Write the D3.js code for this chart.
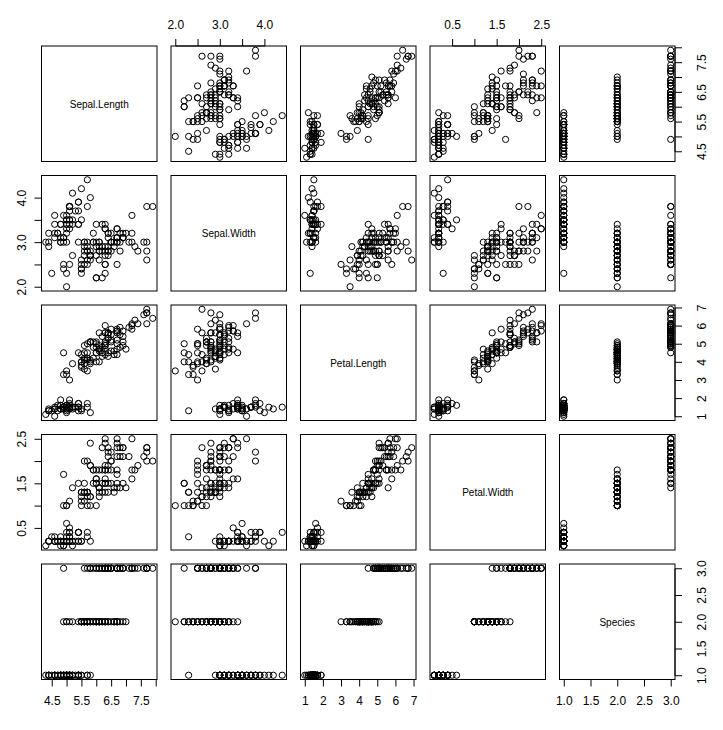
<!DOCTYPE html>
<html><head><meta charset="utf-8">
<script src="https://cdn.jsdelivr.net/npm/d3@7"></script>
<style>body{margin:0;background:#fff}text{font-family:"Liberation Sans",Arial,sans-serif;fill:#000}</style>
</head><body><svg id="c" width="723" height="730"></svg>
<script>
const varNames = ["Sepal.Length","Sepal.Width","Petal.Length","Petal.Width","Species"];
const sepalLength = [5.1,4.9,4.7,4.6,5.0,5.4,4.6,5.0,4.4,4.9,5.4,4.8,4.8,4.3,5.8,5.7,5.4,5.1,5.7,5.1,5.4,5.1,4.6,5.1,4.8,5.0,5.0,5.2,5.2,4.7,4.8,5.4,5.2,5.5,4.9,5.0,5.5,4.9,4.4,5.1,5.0,4.5,4.4,5.0,5.1,4.8,5.1,4.6,5.3,5.0,
7.0,6.4,6.9,5.5,6.5,5.7,6.3,4.9,6.6,5.2,5.0,5.9,6.0,6.1,5.6,6.7,5.6,5.8,6.2,5.6,5.9,6.1,6.3,6.1,6.4,6.6,6.8,6.7,6.0,5.7,5.5,5.5,5.8,6.0,5.4,6.0,6.7,6.3,5.6,5.5,5.5,6.1,5.8,5.0,5.6,5.7,5.7,6.2,5.1,5.7,
6.3,5.8,7.1,6.3,6.5,7.6,4.9,7.3,6.7,7.2,6.5,6.4,6.8,5.7,5.8,6.4,6.5,7.7,7.7,6.0,6.9,5.6,7.7,6.3,6.7,7.2,6.2,6.1,6.4,7.2,7.4,7.9,6.4,6.3,6.1,7.7,6.3,6.4,6.0,6.9,6.7,6.9,5.8,6.8,6.7,6.7,6.3,6.5,6.2,5.9];
const sepalWidth = [3.5,3.0,3.2,3.1,3.6,3.9,3.4,3.4,2.9,3.1,3.7,3.4,3.0,3.0,4.0,4.4,3.9,3.5,3.8,3.8,3.4,3.7,3.6,3.3,3.4,3.0,3.4,3.5,3.4,3.2,3.1,3.4,4.1,4.2,3.1,3.2,3.5,3.6,3.0,3.4,3.5,2.3,3.2,3.5,3.8,3.0,3.8,3.2,3.7,3.3,
3.2,3.2,3.1,2.3,2.8,2.8,3.3,2.4,2.9,2.7,2.0,3.0,2.2,2.9,2.9,3.1,3.0,2.7,2.2,2.5,3.2,2.8,2.5,2.8,2.9,3.0,2.8,3.0,2.9,2.6,2.4,2.4,2.7,2.7,3.0,3.4,3.1,2.3,3.0,2.5,2.6,3.0,2.6,2.3,2.7,3.0,2.9,2.9,2.5,2.8,
3.3,2.7,3.0,2.9,3.0,3.0,2.5,2.9,2.5,3.6,3.2,2.7,3.0,2.5,2.8,3.2,3.0,3.8,2.6,2.2,3.2,2.8,2.8,2.7,3.3,3.2,2.8,3.0,2.8,3.0,2.8,3.8,2.8,2.8,2.6,3.0,3.4,3.1,3.0,3.1,3.1,3.1,2.7,3.2,3.3,3.0,2.5,3.0,3.4,3.0];
const petalLength = [1.4,1.4,1.3,1.5,1.4,1.7,1.4,1.5,1.4,1.5,1.5,1.6,1.4,1.1,1.2,1.5,1.3,1.4,1.7,1.5,1.7,1.5,1.0,1.7,1.9,1.6,1.6,1.5,1.4,1.6,1.6,1.5,1.5,1.4,1.5,1.2,1.3,1.4,1.3,1.5,1.3,1.3,1.3,1.6,1.9,1.4,1.6,1.4,1.5,1.4,
4.7,4.5,4.9,4.0,4.6,4.5,4.7,3.3,4.6,3.9,3.5,4.2,4.0,4.7,3.6,4.4,4.5,4.1,4.5,3.9,4.8,4.0,4.9,4.7,4.3,4.4,4.8,5.0,4.5,3.5,3.8,3.7,3.9,5.1,4.5,4.5,4.7,4.4,4.1,4.0,4.4,4.6,4.0,3.3,4.2,4.2,4.2,4.3,3.0,4.1,
6.0,5.1,5.9,5.6,5.8,6.6,4.5,6.3,5.8,6.1,5.1,5.3,5.5,5.0,5.1,5.3,5.5,6.7,6.9,5.0,5.7,4.9,6.7,4.9,5.7,6.0,4.8,4.9,5.6,5.8,6.1,6.4,5.6,5.1,5.6,6.1,5.6,5.5,4.8,5.4,5.6,5.1,5.1,5.9,5.7,5.2,5.0,5.2,5.4,5.1];
const petalWidth = [0.2,0.2,0.2,0.2,0.2,0.4,0.3,0.2,0.2,0.1,0.2,0.2,0.1,0.1,0.2,0.4,0.4,0.3,0.3,0.3,0.2,0.4,0.2,0.5,0.2,0.2,0.4,0.2,0.2,0.2,0.2,0.4,0.1,0.2,0.2,0.2,0.2,0.1,0.2,0.2,0.3,0.3,0.2,0.6,0.4,0.3,0.2,0.2,0.2,0.2,
1.4,1.5,1.5,1.3,1.5,1.3,1.6,1.0,1.3,1.4,1.0,1.5,1.0,1.4,1.3,1.4,1.5,1.0,1.5,1.1,1.8,1.3,1.5,1.2,1.3,1.4,1.4,1.7,1.5,1.0,1.1,1.0,1.2,1.6,1.5,1.6,1.5,1.3,1.3,1.3,1.2,1.4,1.2,1.0,1.3,1.2,1.3,1.3,1.1,1.3,
2.5,1.9,2.1,1.8,2.2,2.1,1.7,1.8,1.8,2.5,2.0,1.9,2.1,2.0,2.4,2.3,1.8,2.2,2.3,1.5,2.3,2.0,2.0,1.8,2.1,1.8,1.8,1.8,2.1,1.6,1.9,2.0,2.2,1.5,1.4,2.3,2.4,1.8,1.8,2.1,2.4,2.3,1.9,2.3,2.5,2.3,1.9,2.0,2.3,1.8];
const speciesCodes = [1,2,3];
const species = speciesCodes.flatMap(c => Array(50).fill(c));
const tickVals = [
  [4.5,5.0,5.5,6.0,6.5,7.0,7.5,8.0],
  [2.0,2.5,3.0,3.5,4.0],
  [1,2,3,4,5,6,7],
  [0.5,1.0,1.5,2.0,2.5],
  [1.0,1.5,2.0,2.5,3.0]
];
const tickLabels = [
  ["4.5","","5.5","","6.5","","7.5",""],
  ["2.0","","3.0","","4.0"],
  ["1","2","3","4","5","6","7"],
  ["0.5","","1.5","","2.5"],
  ["1.0","1.5","2.0","2.5","3.0"]
];
const cols = [sepalLength, sepalWidth, petalLength, petalWidth, species];

const svg = d3.select("#c");
const P = 115.5, step = 129.5, X0 = 41.5, Y0 = 46, n = 5;
const doms = cols.map(a => { const e = d3.extent(a), r = (e[1]-e[0])*0.04; return [e[0]-r, e[1]+r]; });

for (let i = 0; i < n; i++) {
  for (let j = 0; j < n; j++) {
    const x0 = X0 + j*step, y0 = Y0 + i*step;
    const g = svg.append("g").attr("transform", `translate(${x0},${y0})`);
    const xs = d3.scaleLinear().domain(doms[j]).range([0, P]);
    const ys = d3.scaleLinear().domain(doms[i]).range([P, 0]);
    if (i === j) {
      g.append("text").attr("x", P/2).attr("y", P/2 + 4).attr("text-anchor","middle")
        .attr("font-size", 10).text(varNames[i]);
    } else {
      g.selectAll("circle").data(d3.range(150)).join("circle")
        .attr("cx", k => xs(cols[j][k])).attr("cy", k => ys(cols[i][k])).attr("r", 3.1)
        .attr("fill","none").attr("stroke","#000").attr("stroke-width",1);
    }
    g.append("rect").attr("width",P).attr("height",P).attr("fill","none").attr("stroke","#000").attr("stroke-width",1);
    const fmt = labs => (d, k) => labs[k];
    if (i === 0 && j % 2 === 1) {
      const a = g.append("g").call(d3.axisTop(xs).tickValues(tickVals[j]).tickFormat(fmt(tickLabels[j])).tickSize(7).tickPadding(10));
      styleAxis(a);
    }
    if (i === n-1 && j % 2 === 0) {
      const a = g.append("g").attr("transform",`translate(0,${P})`).call(d3.axisBottom(xs).tickValues(tickVals[j]).tickFormat(fmt(tickLabels[j])).tickSize(7).tickPadding(10));
      styleAxis(a);
    }
    if (j === 0 && i % 2 === 1) {
      const a = g.append("g").call(d3.axisLeft(ys).tickValues(tickVals[i]).tickFormat(fmt(tickLabels[i])).tickSize(7));
      styleAxis(a);
      a.selectAll(".tick text").attr("transform","rotate(-90)").attr("x",0).attr("y",-16).attr("dy","0").attr("text-anchor","middle");
    }
    if (j === n-1 && i % 2 === 0) {
      const a = g.append("g").attr("transform",`translate(${P},0)`).call(d3.axisRight(ys).tickValues(tickVals[i]).tickFormat(fmt(tickLabels[i])).tickSize(7));
      styleAxis(a);
      a.selectAll(".tick text").attr("transform","rotate(-90)").attr("x",0).attr("y",31).attr("dy","0").attr("text-anchor","middle");
    }
  }
}
function styleAxis(a) {
  a.select(".domain").remove();
  const t = a.selectAll(".tick");
  t.select("line").attr("stroke","#000");
  t.select("text").attr("font-size", 12).attr("font-family","Liberation Sans, Arial, sans-serif").attr("fill","#000");
  const nums = t.nodes().map(n => n.getAttribute("transform").match(/translate\(([-\d.]+),([-\d.]+)\)/)).map(m => [+m[1], +m[2]]);
  const horiz = nums[0][1] === nums[nums.length-1][1];
  const pts = nums.map(p => horiz ? p[0] : p[1]);
  const lo = d3.min(pts), hi = d3.max(pts);
  const ln = a.append("line").attr("stroke","#000");
  if (horiz) ln.attr("x1",lo).attr("x2",hi).attr("y1",0).attr("y2",0);
  else ln.attr("y1",lo).attr("y2",hi).attr("x1",0).attr("x2",0);
}
</script></body></html>
